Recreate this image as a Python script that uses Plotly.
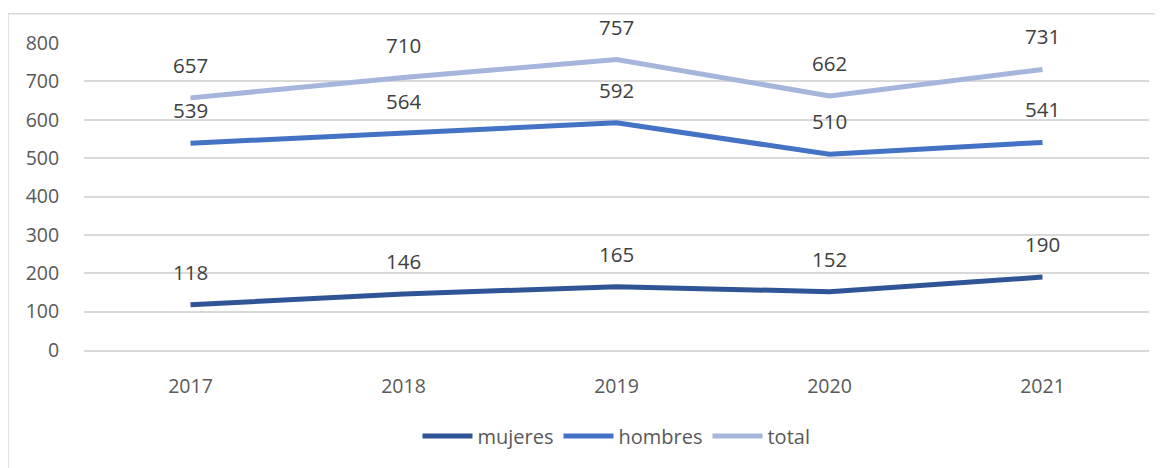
import plotly.graph_objects as go

years = ["2017", "2018", "2019", "2020", "2021"]
mujeres = [118, 146, 165, 152, 190]
hombres = [539, 564, 592, 510, 541]
total = [657, 710, 757, 662, 731]

series = [
    ("mujeres", mujeres, "#2F5597"),
    ("hombres", hombres, "#4472C4"),
    ("total", total, "#A5B5DC"),
]

FONT = "Open Sans"
TXT = "#595959"

fig = go.Figure()
for name, vals, col in series:
    fig.add_trace(go.Scatter(
        x=years, y=vals, name=name, mode="lines",
        line=dict(color=col, width=5),
    ))
    for i, v in enumerate(vals):
        fig.add_annotation(
            x=i, y=v, text=str(v), showarrow=False, xref="x", yref="y",
            yanchor="middle", yshift=33,
            font=dict(family=FONT, size=20.5, color="#404040"),
        )

fig.update_layout(
    width=1155, height=460,
    margin=dict(l=76, r=14, t=35, b=110),
    paper_bgcolor="white", plot_bgcolor="white",
    font=dict(family=FONT, size=19.5, color=TXT),
    showlegend=True,
    legend=dict(orientation="h", x=0.5, xanchor="center", y=-0.28, yanchor="middle",
                font=dict(family=FONT, size=20, color=TXT), itemwidth=50,
                traceorder="normal"),
    xaxis=dict(type="category", range=[-0.5, 4.5], showgrid=False, showline=True,
               linecolor="#D9D9D9", linewidth=1.5, ticks="outside", ticklen=18,
               tickcolor="rgba(0,0,0,0)", zeroline=False,
               tickfont=dict(family=FONT, size=19.5, color=TXT)),
    yaxis=dict(range=[0, 800], dtick=100, showgrid=True, gridcolor="#D9D9D9",
               gridwidth=1.5, zeroline=False, showline=False, ticks="outside",
               ticklen=20, tickcolor="rgba(0,0,0,0)",
               tickfont=dict(family=FONT, size=19.5, color=TXT)),
    shapes=[dict(type="rect", xref="paper", yref="paper",
                 x0=(0 - 76) / 1065, x1=1.2, y0=-0.8, y1=1.095,
                 line=dict(color="#D9D9D9", width=1.5), fillcolor="rgba(0,0,0,0)",
                 layer="below")],
)

fig.write_html("out.html")
